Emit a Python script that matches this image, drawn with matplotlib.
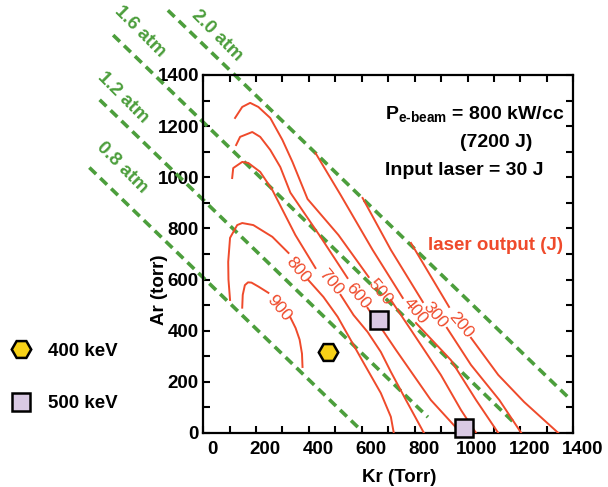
import matplotlib.pyplot as plt
import matplotlib.transforms as mtransforms
from matplotlib.ticker import MultipleLocator

plt.rcParams['font.family'] = ['Liberation Sans', 'DejaVu Sans']
plt.rcParams['mathtext.fontset'] = 'custom'
plt.rcParams['mathtext.bf'] = 'Liberation Sans:bold'
plt.rcParams['mathtext.rm'] = 'Liberation Sans:bold'

# lignes de pression totale (Kr + Ar), en Torr
atm_labels = ['0.8 atm', '1.2 atm', '1.6 atm', '2.0 atm']
atm_kr_start = [-430, -391, -340, -133]
atm_ar_start = [1038, 1303, 1556, 1653]
atm_kr_end = [600, 850, 1184, 1390]
atm_ar_end = [8, 62, 32, 130]
atm_lab_kr = [-305, -301, -237, 52]
atm_lab_ar = [1036, 1310, 1568, 1553]

# contours "laser output (J)" : partie haute / partie basse (coupees par l'etiquette)
levels = [900, 800, 700, 600, 500, 400, 300, 200]
kr_up = [
    [148, 150, 158, 170, 183, 210, 247],
    [102, 96, 95, 102, 129, 148, 190, 262, 323],
    [110, 114, 148, 171, 216, 262, 349, 425],
    [125, 140, 186, 216, 254, 292, 330, 444, 546],
    [121, 148, 178, 209, 254, 300, 338, 395, 512, 626],
    [425, 520, 641, 755],
    [603, 710, 831],
    [786, 930],
]
ar_up = [
    [490, 540, 578, 589, 588, 572, 548],
    [520, 600, 669, 763, 813, 821, 813, 767, 704],
    [997, 1036, 1060, 1056, 1021, 950, 774, 645],
    [1126, 1158, 1177, 1158, 1107, 1040, 940, 767, 606],
    [1232, 1275, 1291, 1275, 1232, 1146, 1060, 915, 774, 610],
    [1095, 931, 716, 528],
    [919, 716, 512],
    [743, 493],
]
kr_low = [
    [330, 350, 365, 374, 376],
    [398, 455, 509, 558, 607, 672, 710, 721],
    [520, 569, 622, 672, 710, 767, 835],
    [622, 729, 861, 975],
    [710, 786, 899, 975, 1032],
    [805, 937, 1032, 1116],
    [922, 1013, 1120, 1203],
    [1013, 1116, 1214, 1343],
]
ar_low = [
    [452, 410, 365, 310, 258],
    [598, 532, 454, 364, 274, 156, 63, 0],
    [540, 461, 395, 317, 239, 129, 0],
    [489, 325, 129, 0],
    [520, 403, 227, 90, 0],
    [430, 285, 129, 0],
    [411, 266, 129, 0],
    [372, 227, 121, 0],
]
lab_kr = [285, 357, 482, 584, 668, 801, 877, 975]
lab_ar = [489, 637, 590, 536, 551, 477, 461, 422]

# points experimentaux
kr_400kev = [474]
ar_400kev = [317]
kr_500kev = [664, 987]
ar_500kev = [442, 20]

red = '#EF4A2B'
green = '#4C9E3C'

fig = plt.figure(figsize=(6.08, 4.87), dpi=100)
ax = fig.add_axes([0.334, 0.111, 0.609, 0.735])

for i in range(len(atm_labels)):
    ax.plot([atm_kr_start[i], atm_kr_end[i]], [atm_ar_start[i], atm_ar_end[i]],
            color=green, lw=2.6, dashes=(2.6, 1.6), clip_on=False, zorder=2)
    ax.text(atm_lab_kr[i], atm_lab_ar[i], atm_labels[i], color=green, fontsize=13.5,
            fontweight='bold', rotation=-45, ha='center', va='center',
            rotation_mode='anchor', clip_on=False)

for i in range(len(levels)):
    ax.plot(kr_up[i], ar_up[i], color=red, lw=1.4, zorder=3)
    ax.plot(kr_low[i], ar_low[i], color=red, lw=1.4, zorder=3)
    ax.text(lab_kr[i], lab_ar[i], str(levels[i]), color=red, fontsize=12.5,
            rotation=-50, ha='center', va='center', rotation_mode='anchor')

h1, = ax.plot(kr_400kev, ar_400kev, 'H', ms=14, mfc='#F7D117', mec='k', mew=1.8,
              ls='none', zorder=5, label='400 keV')
h2, = ax.plot(kr_500kev, ar_500kev, 's', ms=12.5, mfc='#D9C9E3', mec='k', mew=1.8,
              ls='none', zorder=5, clip_on=False, label='500 keV')

ax.set_xlim(0, 1400)
ax.set_ylim(0, 1400)
ax.xaxis.set_major_locator(MultipleLocator(200))
ax.yaxis.set_major_locator(MultipleLocator(200))
ax.xaxis.set_minor_locator(MultipleLocator(100))
ax.yaxis.set_minor_locator(MultipleLocator(100))
ax.tick_params(which='both', direction='in', top=True, right=True, length=5, width=1.5)
ax.tick_params(axis='x', labelsize=13.5, pad=6)
ax.tick_params(axis='y', labelsize=13.5, pad=3)
for lab in ax.get_xticklabels() + ax.get_yticklabels():
    lab.set_fontweight('bold')
# les etiquettes de l'axe x sont un peu decalees a droite dans l'original
shift = mtransforms.ScaledTranslation(0.09, 0, fig.dpi_scale_trans)
for lab in ax.get_xticklabels():
    lab.set_transform(lab.get_transform() + shift)
for s in ax.spines.values():
    s.set_linewidth(1.6)

ax.set_xlabel('Kr (Torr)', fontsize=13.5, fontweight='bold')
ax.set_ylabel('Ar (torr)', fontsize=13.5, fontweight='bold')
ax.xaxis.set_label_coords(0.53, -0.1)
ax.yaxis.set_label_coords(-0.095, 0.40)

ax.text(0.492, 0.874, r'P$_{\mathbf{e\text{-}beam}}$ = 800 kW/cc', transform=ax.transAxes,
        fontsize=14, fontweight='bold')
ax.text(0.695, 0.799, '(7200 J)', transform=ax.transAxes, fontsize=14, fontweight='bold')
ax.text(0.492, 0.721, 'Input laser = 30 J', transform=ax.transAxes, fontsize=14,
        fontweight='bold')
ax.text(0.608, 0.511, 'laser output (J)', transform=ax.transAxes, fontsize=13.5,
        fontweight='bold', color=red)

leg = fig.legend(handles=[h1, h2], loc='center left', bbox_to_anchor=(-0.011, 0.225),
                 frameon=False, labelspacing=1.9, handlelength=1.2, handletextpad=0.8,
                 prop={'size': 13.5, 'weight': 'bold'})

fig.savefig('out.png', dpi=100)
